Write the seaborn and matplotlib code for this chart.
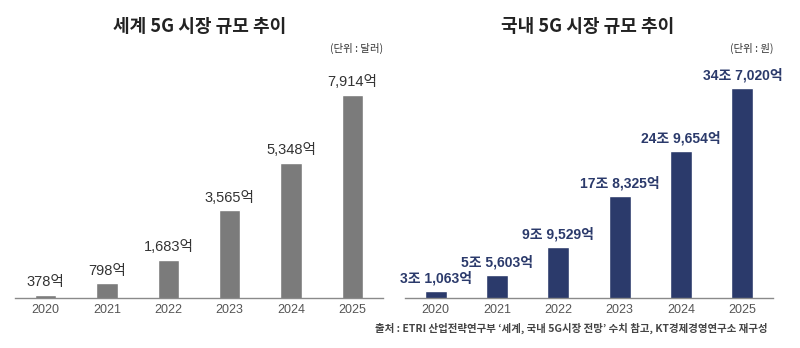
import matplotlib
matplotlib.use("Agg")
import matplotlib.pyplot as plt
import seaborn as sns
import pandas as pd

years = ["2020", "2021", "2022", "2023", "2024", "2025"]
world_values = [378, 798, 1683, 3565, 5348, 7914]          # 억 달러
world_labels = ["378억", "798억", "1,683억", "3,565억", "5,348억", "7,914억"]
korea_values = [3.1063, 5.5603, 9.9529, 17.8325, 24.9654, 34.7020]  # 조 원
korea_labels = ["3조 1,063억", "5조 5,603억", "9조 9,529억", "17조 8,325억", "24조 9,654억", "34조 7,020억"]

title_world = "세계 5G 시장 규모 추이"
title_korea = "국내 5G 시장 규모 추이"
unit_world = "(단위 : 달러)"
unit_korea = "(단위 : 원)"
source = "출처 : ETRI 산업전략연구부 ‘세계, 국내 5G시장 전망’ 수치 참고, KT경제경영연구소 재구성"

sns.set_theme(style="white")
plt.rcParams["font.family"] = ["Noto Sans CJK KR", "DejaVu Sans"]
num_font = ["Liberation Sans", "Noto Sans CJK KR"]

fig = plt.figure(figsize=(8, 3.48), dpi=100)
ax1 = fig.add_axes([15/800, 50/348, 368/800, 238/348])
ax2 = fig.add_axes([405/800, 50/348, 368/800, 238/348])

df1 = pd.DataFrame({"year": years, "value": world_values})
df2 = pd.DataFrame({"year": years, "value": korea_values})

sns.barplot(data=df1, x="year", y="value", color="#7b7b7b", width=0.35,
            saturation=1, ax=ax1)
sns.barplot(data=df2, x="year", y="value", color="#2b3a6b", width=0.36,
            saturation=1, ax=ax2)

def style(ax, ylo, yhi, labels, lcolor, lweight, lsize):
    ax.set_ylim(ylo, yhi)
    ax.set_xlim(-0.5, 5.5)
    ax.set_xlabel("")
    ax.set_ylabel("")
    ax.set_yticks([])
    for s in ["top", "right", "left"]:
        ax.spines[s].set_visible(False)
    ax.spines["bottom"].set_color("#8a8a8a")
    ax.spines["bottom"].set_linewidth(1.0)
    ax.set_xticks(range(len(years)))
    ax.set_xticklabels(years, fontsize=9, color="#555555", family=num_font)
    ax.tick_params(axis="x", which="major", length=0, pad=4)
    ax.set_xticks([i - 0.5 for i in range(len(years) + 1)], minor=True)
    ax.tick_params(axis="x", which="minor", length=4, width=0.8,
                   color="#8a8a8a", direction="inout")
    for patch, lab in zip(ax.patches, labels):
        x = patch.get_x() + patch.get_width() / 2
        h = max(patch.get_height(), ylo)
        ax.annotate(lab, (x, h), xytext=(0, 4), textcoords="offset points",
                    ha="center", va="bottom", fontsize=lsize, color=lcolor,
                    fontweight=lweight, family=num_font)

style(ax1, 250, 9235, world_labels, "#333333", "normal", 10.5)
style(ax2, 2.0, 39.07, korea_labels, "#2b3a6b", "bold", 10)

fig.text(200/800, 1 - 27/348, title_world, ha="center", va="center",
         fontsize=13, fontweight="bold", color="#222222")
fig.text(588/800, 1 - 27/348, title_korea, ha="center", va="center",
         fontsize=13, fontweight="bold", color="#222222")
fig.text(383/800, 1 - 48/348, unit_world, ha="right", va="center",
         fontsize=7.5, color="#333333")
fig.text(773/800, 1 - 48/348, unit_korea, ha="right", va="center",
         fontsize=7.5, color="#333333")
fig.text(768/800, 1 - 328/348, source, ha="right", va="center",
         fontsize=7.5, fontweight="bold", color="#444444")

fig.savefig("out.png", dpi=100)
